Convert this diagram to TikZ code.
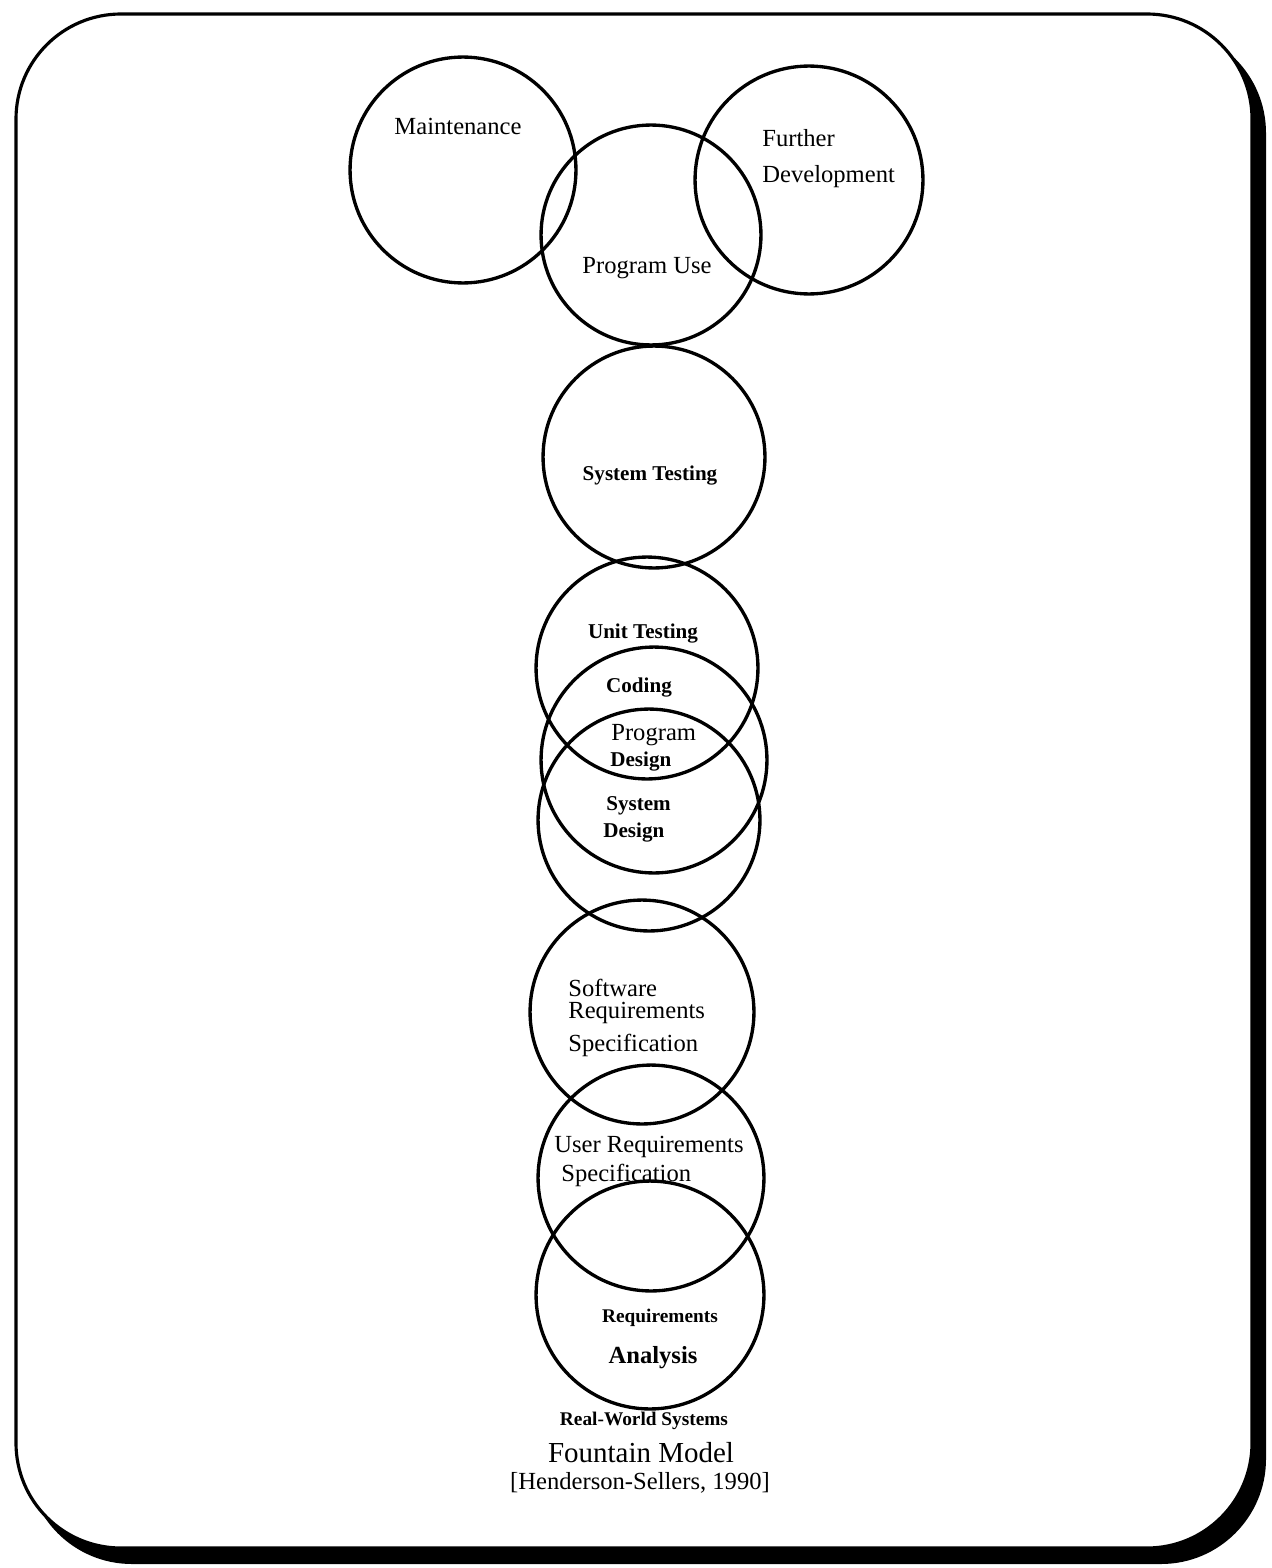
\documentclass[tikz,border=0pt]{standalone}
\usepackage{fontspec}
\setmainfont{Liberation Serif}
\begin{document}
\begin{tikzpicture}[x=0.02cm,y=-0.02cm,
  phase/.style={circle,draw,line width=1.9pt,inner sep=0pt,minimum size=#1*0.04cm},
  lbl/.style={inner sep=0pt,font=\fontsize{14}{16}\selectfont},
  slbl/.style={inner sep=0pt,font=\fontsize{12}{14}\selectfont\bfseries},
  lft/.style={anchor=west}]
\useasboundingbox (0,0) rectangle (1271,1568);
% frame with shadow
\fill[black,rounded corners=2.1cm] (27,28) rectangle (1266,1564);
\filldraw[fill=white,draw=black,line width=1.8pt,rounded corners=2.1cm] (16,14) rectangle (1252,1548);
% circles
\node[phase=113] (cmaint) at (463,170) {};
\node[phase=114] (cfurther) at (809,180) {};
\node[phase=110] (cuse) at (651,235) {};
\node[phase=111] (ctest) at (654,457) {};
\node[phase=111] (cunit) at (647,668) {};
\node[phase=113] (cprog) at (654,760) {};
\node[phase=111] (csys) at (649,820) {};
\node[phase=112] (csrs) at (642,1012) {};
\node[phase=113] (curs) at (651,1178) {};
\node[phase=114] (creq) at (650,1295) {};
% labels
\node[lbl] (tmaint) at (458,126) {Maintenance};
\node[lbl,lft] (tfurther) at (762,138) {Further};
\node[lbl,lft] (tdev) at (762,177) {Development};
\node[lbl] (tuse) at (647,268) {Program Use};
\node[slbl] (ttest) at (650,476) {System Testing};
\node[slbl] (tunit) at (643,634) {Unit Testing};
\node[slbl] (tcode) at (639,688) {Coding};
\node[lbl,lft] (tprog) at (611,735) {Program};
\node[slbl,lft] (tpdes) at (610,762) {Design};
\node[slbl,lft] (tsys) at (606,806) {System};
\node[slbl,lft] (tsdes) at (603,833) {Design};
\node[lbl,lft] (tsoft) at (568,988) {Software};
\node[lbl,lft] (tsreq) at (568,1013) {Requirements};
\node[lbl,lft] (tsspec) at (568,1045) {Specification};
\node[lbl,lft] (tuser) at (554,1147) {User Requirements};
\node[lbl,lft] (tuspec) at (561,1175) {Specification};
\node[slbl,font=\fontsize{11}{13}\selectfont\bfseries] (treq) at (660,1318) {Requirements};
\node[lbl,font=\fontsize{14}{16}\selectfont\bfseries] (tana) at (653,1358) {Analysis};
\node[slbl,font=\fontsize{11}{13}\selectfont\bfseries] (treal) at (644,1421) {Real-World Systems};
\node[lbl,font=\fontsize{16.5}{18}\selectfont] (tfount) at (641,1453) {Fountain Model};
\node[lbl] (tcite) at (640,1483) {[Henderson-Sellers, 1990]};
\end{tikzpicture}
\end{document}
